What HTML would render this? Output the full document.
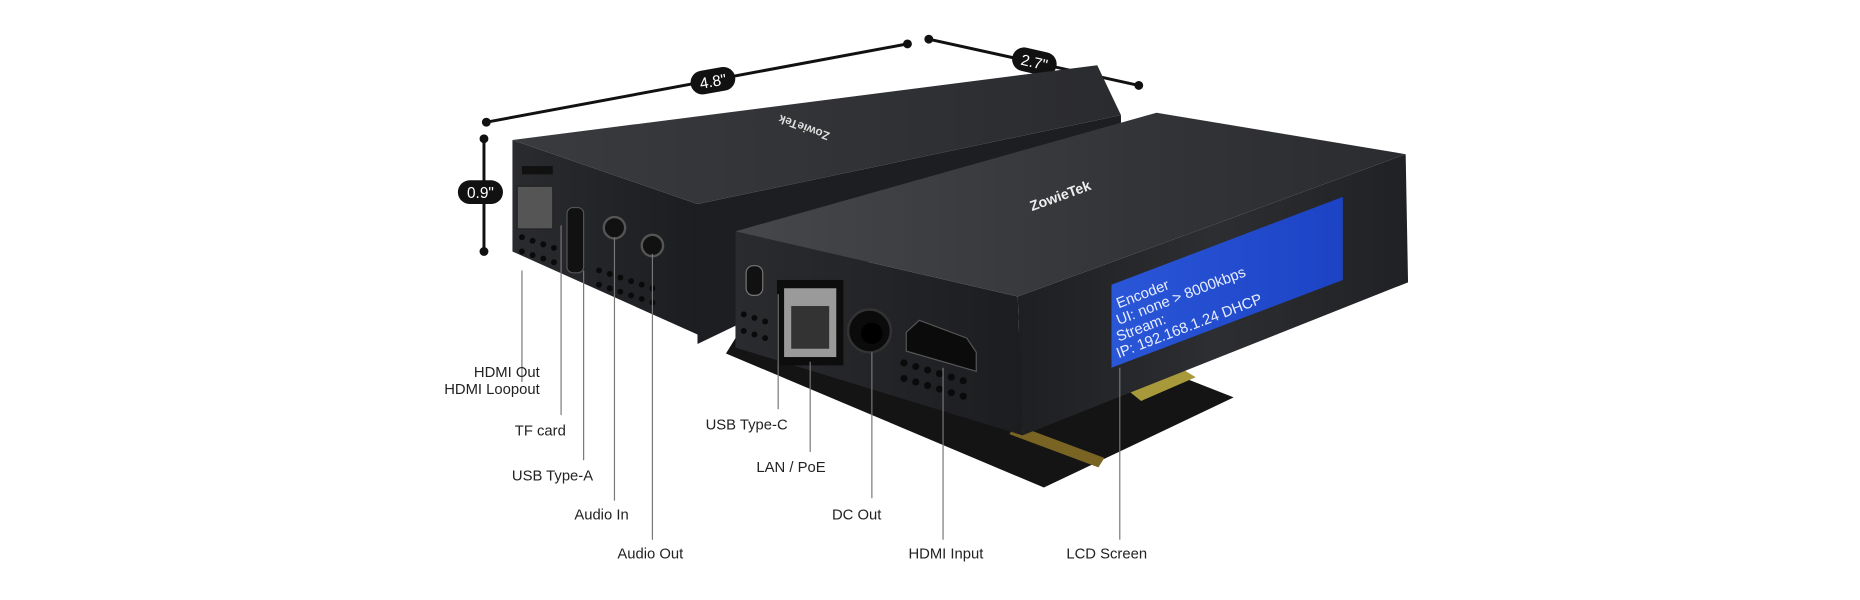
<!DOCTYPE html>
<html><head><meta charset="utf-8"><style>
html,body{margin:0;padding:0;background:#fff;}
svg{display:block}
text{font-family:"Liberation Sans",sans-serif;}
</style></head><body>
<svg width="1860" height="600" viewBox="0 0 1860 600" xmlns="http://www.w3.org/2000/svg">
<defs>
<linearGradient id="top1" x1="0" y1="0" x2="1" y2="0"><stop offset="0" stop-color="#3a3b3e"/><stop offset="1" stop-color="#2a2b2e"/></linearGradient>
<linearGradient id="top2" x1="0" y1="0" x2="1" y2="0"><stop offset="0" stop-color="#46474a"/><stop offset="0.6" stop-color="#333437"/><stop offset="1" stop-color="#2b2c2f"/></linearGradient>
<linearGradient id="front" x1="0" y1="0" x2="1" y2="0"><stop offset="0" stop-color="#2a2b2e"/><stop offset="1" stop-color="#1c1d20"/></linearGradient>
<linearGradient id="side" x1="0" y1="0" x2="1" y2="0"><stop offset="0" stop-color="#1e1f22"/><stop offset="0.5" stop-color="#2d2e31"/><stop offset="1" stop-color="#202124"/></linearGradient>
<linearGradient id="lcd" x1="0" y1="0" x2="1" y2="0"><stop offset="0" stop-color="#2a56d8"/><stop offset="1" stop-color="#1c43c4"/></linearGradient>
</defs>
<g transform="scale(1.18622)">
<g stroke="#111" stroke-width="2.5" fill="#111">
<line x1="410" y1="103" x2="765" y2="37"/><circle cx="410" cy="103" r="2.5"/><circle cx="765" cy="37" r="2.5"/>
<line x1="783" y1="33" x2="960" y2="72"/><circle cx="783" cy="33" r="2.5"/><circle cx="960" cy="72" r="2.5"/>
<line x1="408" y1="117" x2="408" y2="212"/><circle cx="408" cy="117" r="2.5"/><circle cx="408" cy="212" r="2.5"/>
</g>
<g transform="translate(601,68) rotate(-10)"><rect x="-19" y="-10" width="38" height="20" rx="10" fill="#111"/><text x="0" y="5" text-anchor="middle" font-size="13" fill="#fff">4.8"</text></g>
<g transform="translate(872,52) rotate(13)"><rect x="-19" y="-10" width="38" height="20" rx="10" fill="#111"/><text x="0" y="5" text-anchor="middle" font-size="13" fill="#fff">2.7"</text></g>
<g transform="translate(405,162)"><rect x="-19" y="-10" width="38" height="20" rx="10" fill="#111"/><text x="0" y="5" text-anchor="middle" font-size="13" fill="#fff">0.9"</text></g>

<polygon points="588,172 945,97 945,118 588,290" fill="#1d1e21"/>
<polygon points="432,118 588,172 588,282 432,212" fill="url(#front)"/>
<polygon points="432,118 588,172 945,97 925,55" fill="url(#top1)"/>
<text x="0" y="0" font-size="10" fill="#ddd" transform="translate(700,112) rotate(200)" font-weight="bold">ZowieTek</text>
<rect x="436" y="157" width="30" height="36" fill="#555" stroke="#222"/>
<rect x="440" y="140" width="26" height="7" fill="#111"/>
<rect x="478" y="175" width="14" height="55" rx="5" fill="#111" stroke="#555"/>
<circle cx="518" cy="192" r="9" fill="#111" stroke="#555" stroke-width="2"/>
<circle cx="550" cy="207" r="9" fill="#111" stroke="#555" stroke-width="2"/>
<g fill="#0a0a0a">
<circle cx="440" cy="200" r="2.5"/><circle cx="449" cy="203" r="2.5"/><circle cx="458" cy="206" r="2.5"/><circle cx="467" cy="209" r="2.5"/>
<circle cx="440" cy="212" r="2.5"/><circle cx="449" cy="215" r="2.5"/><circle cx="458" cy="218" r="2.5"/><circle cx="467" cy="221" r="2.5"/>
<circle cx="505" cy="228" r="2.5"/><circle cx="514" cy="231" r="2.5"/><circle cx="523" cy="234" r="2.5"/><circle cx="532" cy="237" r="2.5"/><circle cx="541" cy="240" r="2.5"/><circle cx="550" cy="243" r="2.5"/>
<circle cx="505" cy="240" r="2.5"/><circle cx="514" cy="243" r="2.5"/><circle cx="523" cy="246" r="2.5"/><circle cx="532" cy="249" r="2.5"/><circle cx="541" cy="252" r="2.5"/><circle cx="550" cy="255" r="2.5"/>
</g>

<polygon points="612,298 880,411 1040,335 900,280 620,285" fill="#141414"/>
<polygon points="942,322 990,307 1008,318 962,338" fill="#a89a3a"/>
<polygon points="851,366 926,394 931,386 856,358" fill="#7a6424"/>

<polygon points="858,250 1185,130 1187,238 862,367" fill="url(#side)"/>
<polygon points="620,195 858,250 862,367 620,293" fill="url(#front)"/>
<polygon points="620,195 858,250 1185,130 975,95" fill="url(#top2)"/>
<text x="0" y="0" font-size="12" fill="#eee" font-weight="bold" transform="translate(870,178) rotate(-20)">ZowieTek</text>
<polygon points="937,240 1132,166 1132,236 937,310" fill="url(#lcd)"/>
<g font-family="Liberation Mono,monospace" font-size="12.5" fill="#e8eeff">
<text transform="translate(943,260) rotate(-21)">Encoder</text>
<text transform="translate(943,274) rotate(-21)">UI: none &gt; 8000kbps</text>
<text transform="translate(943,288) rotate(-21)">Stream:</text>
<text transform="translate(943,302) rotate(-21)">IP: 192.168.1.24   DHCP</text>
</g>
<rect x="629" y="224" width="14" height="25" rx="6" fill="#111" stroke="#777"/>
<rect x="655" y="236" width="56" height="72" fill="#0d0d0d"/>
<rect x="661" y="243" width="44" height="58" fill="#9a9a9a"/>
<rect x="667" y="258" width="32" height="36" fill="#333"/>
<circle cx="733" cy="279" r="18" fill="#0b0b0b" stroke="#333" stroke-width="2"/>
<circle cx="735" cy="281" r="9" fill="#000"/>
<polygon points="764,280 775,270 815,285 823,297 823,313 764,296" fill="#0b0b0b" stroke="#555"/>
<g fill="#0a0a0a">
<circle cx="627" cy="265" r="2.5"/><circle cx="636" cy="268" r="2.5"/><circle cx="645" cy="271" r="2.5"/>
<circle cx="627" cy="279" r="2.5"/><circle cx="636" cy="282" r="2.5"/><circle cx="645" cy="285" r="2.5"/>
<circle cx="762" cy="306" r="3"/><circle cx="772" cy="309" r="3"/><circle cx="782" cy="312" r="3"/><circle cx="792" cy="315" r="3"/><circle cx="802" cy="318" r="3"/><circle cx="812" cy="321" r="3"/>
<circle cx="762" cy="319" r="3"/><circle cx="772" cy="322" r="3"/><circle cx="782" cy="325" r="3"/><circle cx="792" cy="328" r="3"/><circle cx="802" cy="331" r="3"/><circle cx="812" cy="334" r="3"/>
</g>

<g stroke="#777" stroke-width="1">
<line x1="440" y1="228" x2="440" y2="322"/>
<line x1="473" y1="190" x2="473" y2="350"/>
<line x1="492" y1="228" x2="492" y2="388"/>
<line x1="518" y1="200" x2="518" y2="422"/>
<line x1="550" y1="214" x2="550" y2="455"/>
<line x1="656" y1="248" x2="656" y2="345"/>
<line x1="683" y1="305" x2="683" y2="381"/>
<line x1="735" y1="297" x2="735" y2="420"/>
<line x1="795" y1="310" x2="795" y2="455"/>
<line x1="944" y1="310" x2="944" y2="455"/>
</g>
<g font-size="12.5" fill="#222">
<text x="455" y="318" text-anchor="end">HDMI Out</text>
<text x="455" y="332" text-anchor="end">HDMI Loopout</text>
<text x="477" y="367" text-anchor="end">TF card</text>
<text x="500" y="405" text-anchor="end">USB Type-A</text>
<text x="530" y="438" text-anchor="end">Audio In</text>
<text x="576" y="471" text-anchor="end">Audio Out</text>
<text x="664" y="362" text-anchor="end">USB Type-C</text>
<text x="696" y="398" text-anchor="end">LAN / PoE</text>
<text x="743" y="438" text-anchor="end">DC Out</text>
<text x="829" y="471" text-anchor="end">HDMI Input</text>
<text x="967" y="471" text-anchor="end">LCD Screen</text>
</g>
</g>
</svg>
</body></html>
